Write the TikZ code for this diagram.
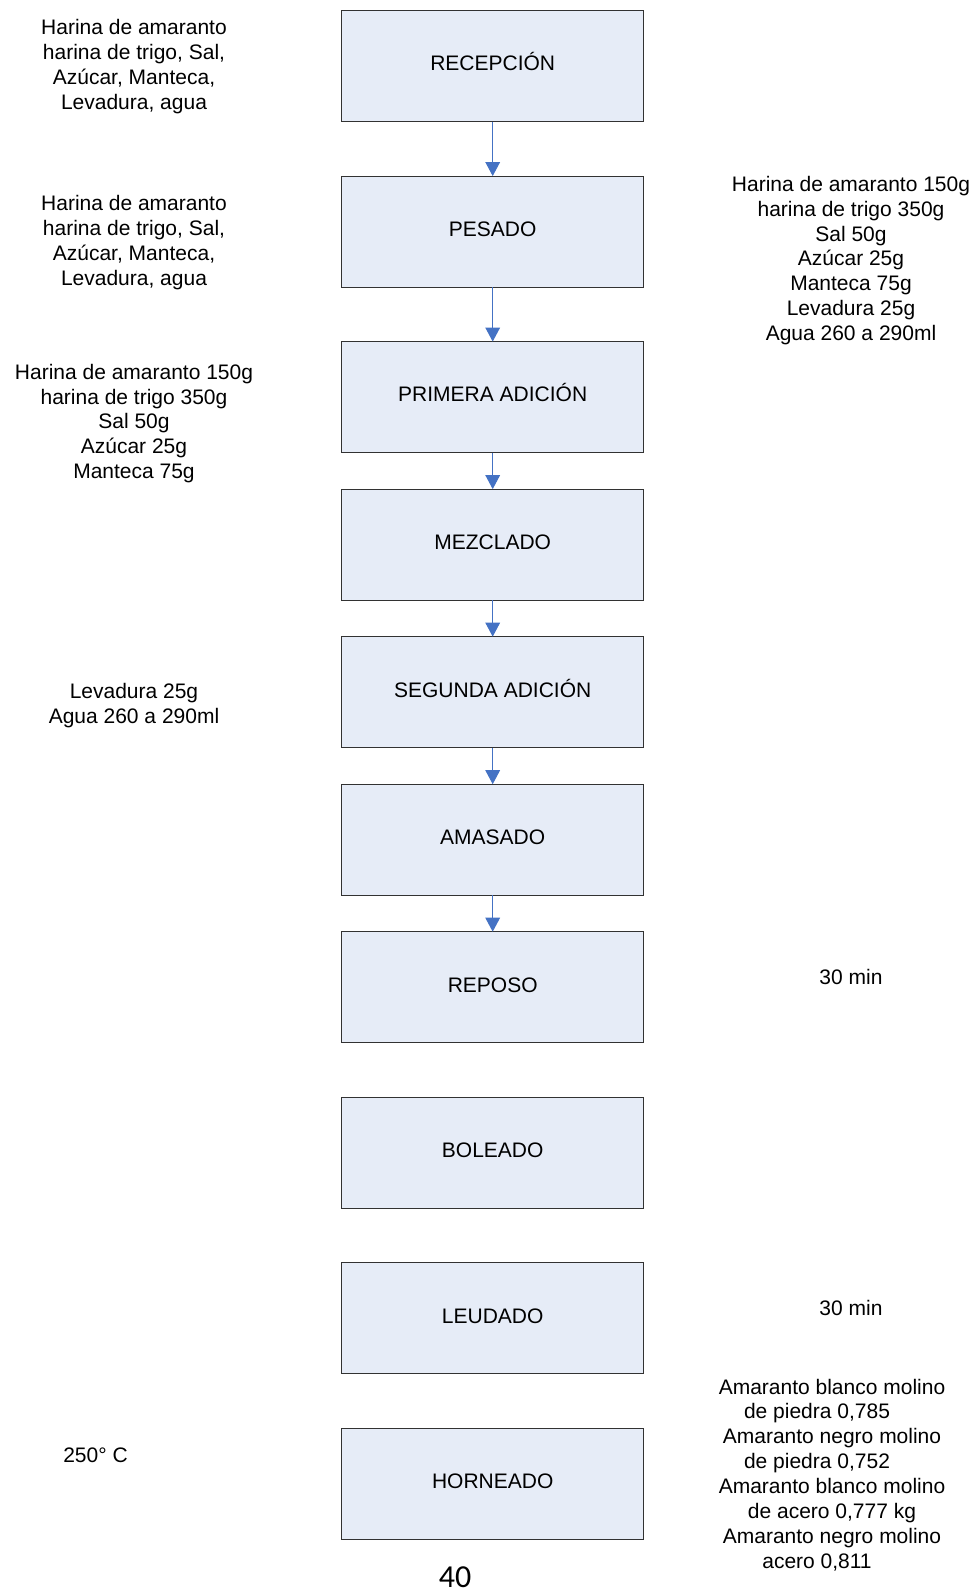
\documentclass[tikz,border=0pt]{standalone}
\usepackage{fontspec}
\setmainfont{Liberation Sans}
\newfontfamily\pagefont{Carlito}
\usepackage{xcolor}
\usetikzlibrary{arrows.meta,positioning}
\definecolor{softblue}{RGB}{230,236,247}
\definecolor{flowblue}{RGB}{68,114,196}
\definecolor{boxline}{RGB}{50,50,50}
\newcommand{\colgap}{\hbox to 22.5pt{}}

\begin{document}
\begin{tikzpicture}[x=0.75pt, y=-0.75pt,
  every node/.style={font=\fontsize{15.75pt}{18.7pt}\selectfont},
  etapa/.style={draw=boxline, line width=0.75pt, fill=softblue, minimum width=226.9pt, minimum height=83.25pt, inner sep=0pt, outer sep=0pt, text height=0.73em, text depth=0pt},
  nota/.style={align=center, inner sep=0pt},
  flecha/.style={draw=flowblue, line width=0.75pt, -{Triangle[width=11pt, length=10.5pt]}}]
\useasboundingbox (0,0) rectangle (976,1593);
% etapas del proceso
\node[etapa] (recep) at (492.7,66) {RECEPCIÓN};
\node[etapa, below=40.9pt of recep] (pesado) {PESADO};
\node[etapa, below=40.9pt of pesado] (primera) {PRIMERA ADICIÓN};
\node[etapa, below=27.4pt of primera] (mezcl) {MEZCLADO};
\node[etapa, below=27.4pt of mezcl] (segunda) {SEGUNDA ADICIÓN};
\node[etapa, below=27.4pt of segunda] (amasado) {AMASADO};
\node[etapa, below=27.4pt of amasado] (reposo) {REPOSO};
\node[etapa, below=40.9pt of reposo] (boleado) {BOLEADO};
\node[etapa, below=40.9pt of boleado] (leudado) {LEUDADO};
\node[etapa, below=40.9pt of leudado] (horneado) {HORNEADO};
% flechas
\draw[flecha] (recep) -- (pesado);
\draw[flecha] (pesado) -- (primera);
\draw[flecha] (primera) -- (mezcl);
\draw[flecha] (mezcl) -- (segunda);
\draw[flecha] (segunda) -- (amasado);
\draw[flecha] (amasado) -- (reposo);
% notas
\node[nota] (inRecep) at (134,66.5) {Harina de amaranto\\harina de trigo, Sal,\\Azúcar, Manteca,\\Levadura, agua};
\node[nota] (inPesado) at (134,242.5) {Harina de amaranto\\harina de trigo, Sal,\\Azúcar, Manteca,\\Levadura, agua};
\node[nota] (cantPesado) at (851,260.5) {Harina de amaranto 150g\\harina de trigo 350g\\Sal 50g\\Azúcar 25g\\Manteca 75g\\Levadura 25g\\Agua 260 a 290ml};
\node[nota] (inPrimera) at (134,423.5) {Harina de amaranto 150g\\harina de trigo 350g\\Sal 50g\\Azúcar 25g\\Manteca 75g};
\node[nota] (inSegunda) at (134,705.5) {Levadura 25g\\Agua 260 a 290ml};
\node[nota] (tReposo) at (851,977) {30 min};
\node[nota] (tLeudado) at (851,1308) {30 min};
\node[nota] (temp) at (95.5,1455) {250° C};
\node[nota] (rend) at (832,1475) {Amaranto blanco molino\\de piedra 0,785\colgap\\Amaranto negro molino\\de piedra 0,752\colgap\\Amaranto blanco molino\\de acero 0,777 kg\\Amaranto negro molino\\acero 0,811\colgap};
\node[inner sep=0pt, font=\pagefont\fontsize{24pt}{28pt}\selectfont] (pagina) at (455,1577) {40};
\end{tikzpicture}
\end{document}
